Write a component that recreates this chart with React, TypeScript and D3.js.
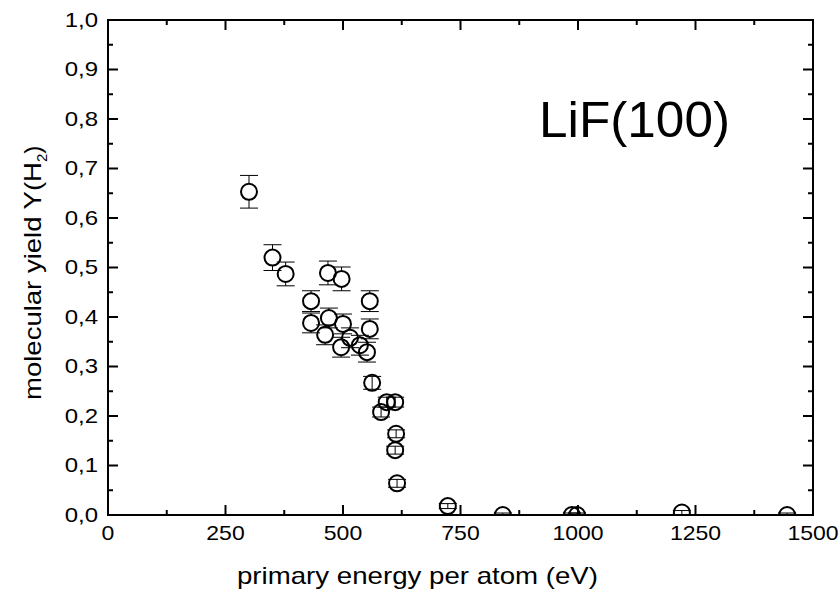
import React from "react";
import * as d3 from "d3";

const energy = [300, 350, 378, 432, 432, 468, 470, 462, 497, 500, 496, 515, 536, 557, 557, 551, 562, 581, 593, 611, 613, 611, 615, 723, 840, 987, 998, 1221, 1445];
const yieldH2 = [0.653, 0.52, 0.487, 0.432, 0.388, 0.489, 0.398, 0.364, 0.477, 0.386, 0.339, 0.358, 0.343, 0.432, 0.376, 0.329, 0.267, 0.208, 0.228, 0.228, 0.164, 0.131, 0.064, 0.018, 0, 0, 0, 0.005, 0];
const errors = [0.033, 0.026, 0.024, 0.021, 0.02, 0.024, 0.02, 0.02, 0.024, 0.02, 0.02, 0.02, 0.02, 0.021, 0.02, 0.02, 0.013, 0.01, 0.01, 0.01, 0.008, 0.008, 0.008, 0.005, 0.004, 0.004, 0.004, 0.004, 0.004];
const xTicks = [0, 250, 500, 750, 1000, 1250, 1500];
const yTicks = [0, 0.1, 0.2, 0.3, 0.4, 0.5, 0.6, 0.7, 0.8, 0.9, 1.0];

const W = 840, H = 596;
const L = 108, R = 813, T = 20, B = 515;
const FONT = "Liberation Sans, Arial, sans-serif";

export default function App() {
  const x = d3.scaleLinear().domain([0, 1500]).range([L, R]);
  const y = d3.scaleLinear().domain([0, 1]).range([B, T]);
  const fmt = (v: number) => d3.format(".1f")(v).replace(".", ",");
  const xMinor = d3.range(125, 1500, 250);
  const yMinor = d3.range(0.05, 1, 0.1);
  const r = 8;
  const cap = 9;
  const major = 10, minor = 5;
  return (
    <svg width={W} height={H} style={{ position: "absolute", left: 0, top: 0, background: "#fff" }}>
      <defs>
        <clipPath id="plot">
          <rect x={L} y={T} width={R - L} height={B - T} />
        </clipPath>
      </defs>
      <rect x={0} y={0} width={W} height={H} fill="#fff" />
      <g clipPath="url(#plot)" stroke="#000" fill="none">
        {energy.map((e, i) => {
          const cx = x(e), cy = y(yieldH2[i]);
          const top = y(yieldH2[i] + errors[i]);
          const bot = y(yieldH2[i] - errors[i]);
          const big = cy - top > r;
          return (
            <g key={i}>
              {big ? (
                <>
                  <line x1={cx} x2={cx} y1={top} y2={cy - r} strokeWidth={1} />
                  <line x1={cx} x2={cx} y1={cy + r} y2={bot} strokeWidth={1} />
                </>
              ) : (
                <line x1={cx} x2={cx} y1={top} y2={bot} strokeWidth={1} />
              )}
              <line x1={cx - cap} x2={cx + cap} y1={top} y2={top} strokeWidth={1} />
              <line x1={cx - cap} x2={cx + cap} y1={bot} y2={bot} strokeWidth={1} />
              <circle cx={cx} cy={cy} r={r} strokeWidth={2} />
            </g>
          );
        })}
      </g>
      <g stroke="#000" strokeWidth={2}>
        {xTicks.map((t) => (
          <g key={"xt" + t}>
            <line x1={x(t)} x2={x(t)} y1={B} y2={B - major} />
            <line x1={x(t)} x2={x(t)} y1={T} y2={T + major} />
          </g>
        ))}
        {xMinor.map((t) => (
          <g key={"xm" + t}>
            <line x1={x(t)} x2={x(t)} y1={B} y2={B - minor} />
            <line x1={x(t)} x2={x(t)} y1={T} y2={T + minor} />
          </g>
        ))}
        {yTicks.map((t) => (
          <g key={"yt" + t}>
            <line x1={L} x2={L + major} y1={y(t)} y2={y(t)} />
            <line x1={R} x2={R - major} y1={y(t)} y2={y(t)} />
          </g>
        ))}
        {yMinor.map((t) => (
          <g key={"ym" + t}>
            <line x1={L} x2={L + minor} y1={y(t)} y2={y(t)} />
            <line x1={R} x2={R - minor} y1={y(t)} y2={y(t)} />
          </g>
        ))}
        <rect x={L} y={T} width={R - L} height={B - T} fill="none" />
      </g>
      <g fontFamily={FONT} fontSize={20} fill="#000">
        {xTicks.map((t) => (
          <text key={"xl" + t} x={x(t)} y={540} textAnchor="middle" transform={`translate(${x(t)},0) scale(1.15,1) translate(${-x(t)},0)`}>{t}</text>
        ))}
        {yTicks.map((t) => (
          <text key={"yl" + t} x={98} y={y(t) + 7} textAnchor="end" transform={`translate(98,0) scale(1.2,1) translate(-98,0)`}>{fmt(t)}</text>
        ))}
      </g>
      <text x={237} y={584} fontFamily={FONT} fontSize={24} textLength={361} lengthAdjust="spacingAndGlyphs">
        primary energy per atom (eV)
      </text>
      <text transform={`translate(41,400) rotate(-90)`} fontFamily={FONT} fontSize={24}>
        <tspan textLength={238} lengthAdjust="spacingAndGlyphs">molecular yield Y(H</tspan><tspan fontSize={15} dy={6}>2</tspan><tspan dy={-6}>)</tspan>
      </text>
      <text x={539} y={137} fontFamily={FONT} fontSize={50} textLength={191} lengthAdjust="spacingAndGlyphs">LiF(100)</text>
    </svg>
  );
}
